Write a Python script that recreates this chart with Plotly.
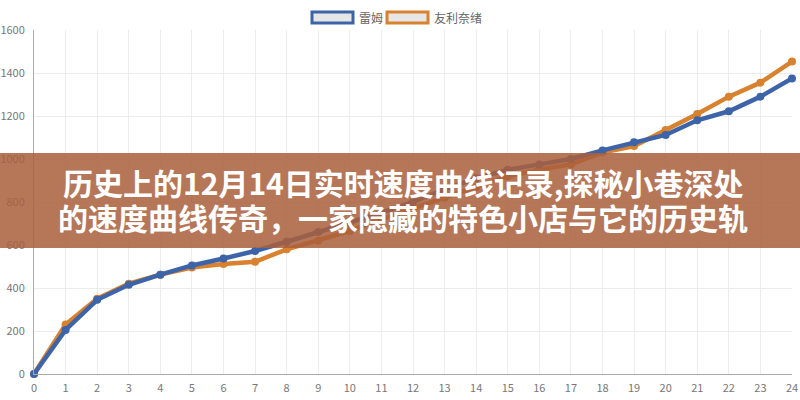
import plotly.graph_objects as go

hours = list(range(25))
rem = [0, 205, 345, 415, 462, 505, 537, 572, 615, 660, 700, 750, 800, 860, 910,
       950, 975, 1000, 1040, 1078, 1112, 1180, 1222, 1290, 1375]
yuri = [0, 230, 350, 420, 462, 495, 512, 522, 580, 620, 665, 720, 770, 820, 870,
        920, 950, 975, 1030, 1060, 1135, 1209, 1290, 1355, 1453]
series_names = ["雷姆", "友利奈绪"]
colors = ["#3d64a8", "#d8822f"]
title_lines = ["历史上的12月14日实时速度曲线记录,探秘小巷深处",
               "的速度曲线传奇，一家隐藏的特色小店与它的历史轨"]

FONT = "Noto Sans CJK SC, Noto Sans, sans-serif"

fig = go.Figure()
# draw orange first so blue sits on top at the start, as in the picture
for name, ys, c in [(series_names[1], yuri, colors[1]), (series_names[0], rem, colors[0])]:
    fig.add_trace(go.Scatter(
        x=hours, y=ys, name=name, mode="lines+markers",
        line=dict(color=c, width=4.5),
        marker=dict(color=c, size=8),
        showlegend=False, cliponaxis=False,
    ))

W, H = 800, 400
# plot area in screen pixels (body margin removed via post_script)
SL, SR, ST, SB = 34, 792, 30, 374
L, T = SL, ST
R = W - SR
B = H - SB
pw, ph = SR - SL, SB - ST

def px_x(px):
    return (px - SL) / pw

def px_y(py):
    return (SB - py) / ph

shapes = []
annotations = []
# manual legend (ECharts-style boxes)
legend_items = [(312, 353, 357, series_names[0], colors[0]),
                (387, 428, 432, series_names[1], colors[1])]
for x0, x1, tx, name, c in legend_items:
    shapes.append(dict(type="rect", xref="paper", yref="paper",
                       x0=px_x(x0), x1=px_x(x1), y0=px_y(23), y1=px_y(12),
                       line=dict(color=c, width=3), fillcolor="#e6e6e6", layer="above"))
    annotations.append(dict(text=name, xref="paper", yref="paper", x=px_x(tx), y=px_y(17.5),
                            xanchor="left", yanchor="middle", showarrow=False,
                            font=dict(family=FONT, size=12, color="#666")))

# banner
shapes.append(dict(type="rect", xref="paper", yref="paper",
                   x0=px_x(0), x1=px_x(800), y0=px_y(248), y1=px_y(153),
                   line=dict(width=0), fillcolor="rgba(170,95,60,0.86)", layer="above"))
for line_txt, cy in zip(title_lines, [182, 217]):
    annotations.append(dict(text="<b>" + line_txt + "</b>", xref="paper", yref="paper",
                            x=px_x(403), y=px_y(cy), xanchor="center", yanchor="middle",
                            showarrow=False, borderpad=0,
                            font=dict(family=FONT, size=30, color="white", weight=700)))

fig.update_layout(
    width=W, height=H,
    margin=dict(l=L, r=R, t=T, b=B, autoexpand=False),
    paper_bgcolor="white", plot_bgcolor="white",
    shapes=shapes, annotations=annotations,
    showlegend=False,
    xaxis=dict(range=[0, 24], dtick=1, tick0=0, showgrid=True, gridcolor="#ececec",
               showline=True, linecolor="#aaaaaa", linewidth=1, zeroline=False,
               automargin=False,
               ticks="", tickfont=dict(family=FONT, size=11, color="#777"),
               ticklabelstandoff=4),
    yaxis=dict(range=[0, 1600], dtick=200, showgrid=True, gridcolor="#ececec",
               showline=True, linecolor="#aaaaaa", linewidth=1, zeroline=False,
               automargin=False,
               ticks="", tickfont=dict(family=FONT, size=11, color="#777"),
               ticklabelstandoff=6),
)

fig.write_html("out.html", config={"displayModeBar": False},
               post_script="document.body.style.margin='0';document.body.style.overflow='hidden';")
